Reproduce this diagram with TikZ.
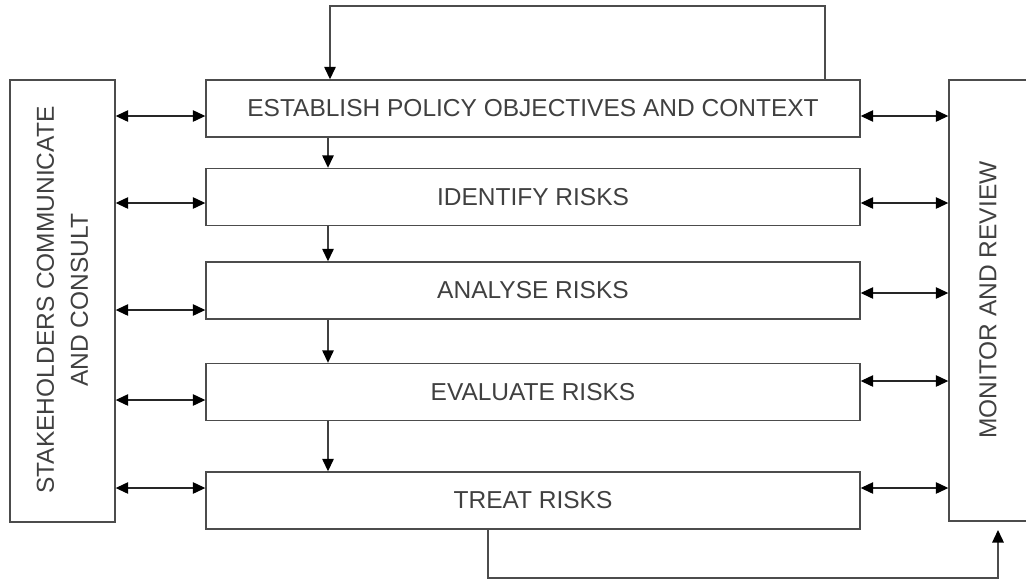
\documentclass[tikz,border=0pt]{standalone}
\usepackage{fontspec}
\setmainfont{Liberation Sans}
\usetikzlibrary{arrows.meta}

\tikzset{
  stagebox/.style={draw=black!70, line width=1.4pt, minimum width=654pt,
    minimum height=57pt, inner sep=0pt, text=black!75,
    font=\fontsize{24.5}{34}\selectfont},
  sidebox/.style={draw=black!70, line width=1.4pt, inner sep=0pt},
  sidetext/.style={rotate=90, align=center, text=black!75,
    font=\fontsize{24.5}{34}\selectfont},
  tip/.style={Triangle[length=12.5pt,width=11.5pt,color=black]},
  flow/.style={draw=black!75, line width=1.4pt, -{Triangle[length=12.5pt,width=11.5pt,color=black]}},
  loopline/.style={draw=black!70, line width=1.4pt, -{Triangle[length=12.5pt,width=11.5pt,color=black]}},
  both/.style={draw=black!85, line width=1.2pt,
    {Triangle[length=12.5pt,width=11.5pt,color=black]}-{Triangle[length=12.5pt,width=11.5pt,color=black]}}
}

\begin{document}
\begin{tikzpicture}[x=1pt,y=-1pt]
\useasboundingbox (0,0) rectangle (1026,582);

% side boxes
\node[sidebox, minimum width=105pt, minimum height=442pt] (stake) at (62.5,301) {};
\node[sidetext] (staketext) at (62.5,300) {STAKEHOLDERS COMMUNICATE\\AND CONSULT};
\node[sidebox, minimum width=81pt, minimum height=441pt] (monitor) at (989.5,300.5) {};
\node[sidetext] (monitortext) at (988,300) {MONITOR AND REVIEW};

% process steps
\node[stagebox] (establish) at (533,108.5) {ESTABLISH POLICY OBJECTIVES AND CONTEXT};
\node[stagebox] (identify) at (533,197) {IDENTIFY RISKS};
\node[stagebox] (analyse) at (533,290.5) {ANALYSE RISKS};
\node[stagebox] (evaluate) at (533,392) {EVALUATE RISKS};
\node[stagebox] (treat) at (533,500.5) {TREAT RISKS};

% downward flow
\coordinate (fx) at (328,0);
\draw[flow] (establish.south -| fx) -- (identify.north -| fx);
\draw[flow] (identify.south -| fx) -- (analyse.north -| fx);
\draw[flow] (analyse.south -| fx) -- (evaluate.north -| fx);
\draw[flow] (evaluate.south -| fx) -- (treat.north -| fx);

% arrows to the side boxes
\coordinate (l1) at (0,116);
\coordinate (l2) at (0,203);
\coordinate (l3) at (0,310);
\coordinate (l4) at (0,400);
\coordinate (l5) at (0,488);
\coordinate (r1) at (0,116);
\coordinate (r2) at (0,203);
\coordinate (r3) at (0,293);
\coordinate (r4) at (0,381);
\coordinate (r5) at (0,488);

\draw[both] (stake.east |- l1) -- (establish.west |- l1);
\draw[both] (stake.east |- l2) -- (identify.west |- l2);
\draw[both] (stake.east |- l3) -- (analyse.west |- l3);
\draw[both] (stake.east |- l4) -- (evaluate.west |- l4);
\draw[both] (stake.east |- l5) -- (treat.west |- l5);

\draw[both] (establish.east |- r1) -- (monitor.west |- r1);
\draw[both] (identify.east |- r2) -- (monitor.west |- r2);
\draw[both] (analyse.east |- r3) -- (monitor.west |- r3);
\draw[both] (evaluate.east |- r4) -- (monitor.west |- r4);
\draw[both] (treat.east |- r5) -- (monitor.west |- r5);

% feedback loops
\coordinate (topout) at (825,0);
\coordinate (topin) at (330,0);
\draw[loopline] (establish.north -| topout) -- ++(0,-73.5) -| (establish.north -| topin);

\coordinate (botout) at (488,0);
\coordinate (botend) at (998,530);
\draw[loopline] (treat.south -| botout) |- (998,578) -- (botend);

\end{tikzpicture}
\end{document}
